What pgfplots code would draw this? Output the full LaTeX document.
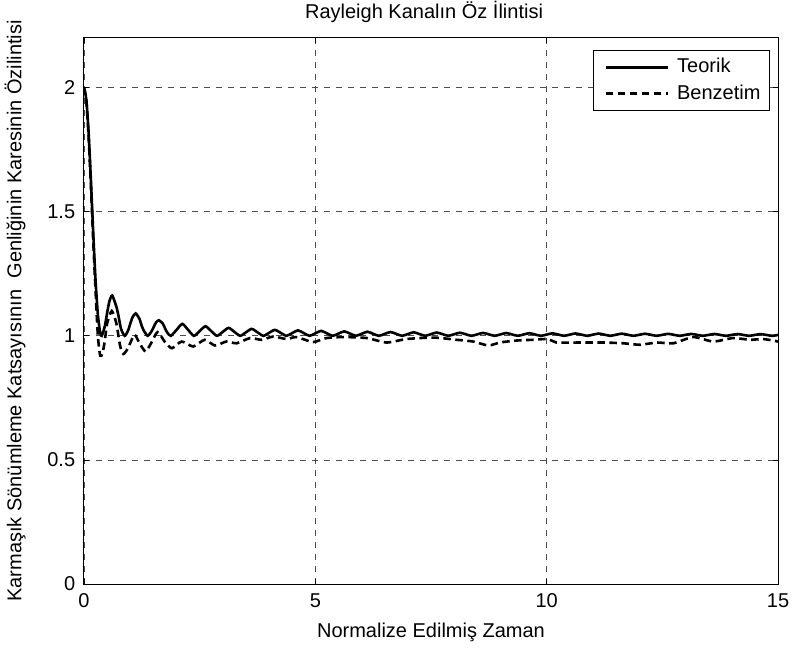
\documentclass[border=0pt]{standalone}
\usepackage{fontspec}
\setmainfont{Liberation Sans}
\usepackage{pgfplots}
\pgfplotsset{compat=1.18}
\begin{document}
\fontsize{20bp}{23bp}\selectfont
\begin{tikzpicture}
\useasboundingbox (-84bp,-65bp) rectangle (709bp,584bp);
\begin{axis}[
  at={(0,0)}, anchor=south west,
  width=694bp, height=546bp, scale only axis,
  xmin=0, xmax=15, ymin=0, ymax=2.2,
  xtick={0,5,10,15}, ytick={0,0.5,1,1.5,2},
  yticklabels={0,0.5,1,1.5,2},
  /pgf/number format/assume math mode=true,
  tick align=inside, major tick length=5bp,
  xtick pos=both, ytick pos=both,
  tick style={black, line width=0.8bp},
  axis line style={line width=1bp},
  grid=major,
  major grid style={black!70, line width=0.7bp, dash pattern=on 6bp off 6bp},
  xticklabel style={yshift=-3bp},
  yticklabel style={xshift=-2bp},
  title={Rayleigh Kanalın Öz İlintisi},
  title style={at={(axis description cs:0.49,1.036)}, anchor=center},
  xlabel={Normalize Edilmiş Zaman},
  xlabel style={at={(axis description cs:0.5,-0.0879)}, anchor=center},
  ylabel={Karmaşık Sönümleme Katsayısının\ \ Genliğinin Karesinin Özilintisi},
  ylabel style={at={(axis description cs:-0.0994,0.5)}, anchor=center},
  legend style={at={(rel axis cs:1,1)}, xshift=-8bp, yshift=-12bp, anchor=north east,
    draw=black, line width=1bp, inner xsep=7bp, inner ysep=6bp,
    row sep=5bp, cells={anchor=west}},
  legend image code/.code={\draw[#1, line width=2.6bp] (4bp,0bp) -- (66bp,0bp); \path (0bp,0bp) (72bp,0bp);},
]
\addplot[black, line width=2.6bp, smooth, tension=0.4] coordinates {
(0,2) (0.05,1.9516) (0.1,1.8167) (0.15,1.6240) (0.2,1.4126) (0.25,1.2228) (0.3,1.0845) (0.35,1.0123) (0.383,1.0)
(0.45,1.0383) (0.5,1.0925) (0.55,1.1397) (0.61,1.1622) (0.7,1.1172) (0.75,1.0760) (0.8,1.0284) (0.879,1.0)
(0.95,1.0199) (1.0,1.0485) (1.05,1.0751) (1.117,1.0901) (1.2,1.0676) (1.25,1.0388) (1.3,1.0182) (1.378,1.0)
(1.45,1.015) (1.5,1.033) (1.56,1.055) (1.619,1.0624) (1.7,1.050) (1.75,1.031) (1.8,1.013) (1.877,1.0)
(2.0,1.024) (2.125,1.048) (2.25,1.024) (2.375,1.0) (2.5,1.019) (2.625,1.0385) (2.75,1.019) (2.875,1)
(3.0,1.016) (3.125,1.032) (3.25,1.016) (3.375,1) (3.5,1.014) (3.625,1.028) (3.75,1.014) (3.875,1)
(4.0,1.012) (4.125,1.024) (4.25,1.012) (4.375,1) (4.5,1.011) (4.625,1.022) (4.75,1.011) (4.875,1)
(5.0,1.010) (5.125,1.020) (5.25,1.010) (5.375,1) (5.5,1.009) (5.625,1.018) (5.75,1.009) (5.875,1)
(6.0,1.008) (6.125,1.0165) (6.25,1.008) (6.375,1) (6.5,1.0077) (6.625,1.0153) (6.75,1.0077) (6.875,1)
(7.0,1.0071) (7.125,1.0142) (7.25,1.0071) (7.375,1) (7.5,1.0067) (7.625,1.0133) (7.75,1.0067) (7.875,1)
(8.0,1.0063) (8.125,1.0125) (8.25,1.0063) (8.375,1) (8.5,1.0059) (8.625,1.0117) (8.75,1.0059) (8.875,1)
(9.0,1.0056) (9.125,1.0111) (9.25,1.0056) (9.375,1) (9.5,1.0053) (9.625,1.0105) (9.75,1.0053) (9.875,1)
(10.0,1.005) (10.125,1.01) (10.25,1.005) (10.375,1) (10.5,1.0048) (10.625,1.0095) (10.75,1.0048) (10.875,1)
(11.0,1.0046) (11.125,1.0091) (11.25,1.0046) (11.375,1) (11.5,1.0044) (11.625,1.0087) (11.75,1.0044) (11.875,1)
(12.0,1.0042) (12.125,1.0084) (12.25,1.0042) (12.375,1) (12.5,1.004) (12.625,1.008) (12.75,1.004) (12.875,1)
(13.0,1.0039) (13.125,1.0077) (13.25,1.0039) (13.375,1) (13.5,1.0037) (13.625,1.0074) (13.75,1.0037) (13.875,1)
(14.0,1.0036) (14.125,1.0072) (14.25,1.0036) (14.375,1) (14.5,1.0035) (14.625,1.0069) (14.75,1.0035) (14.875,1)
(15,1.0034)
};
\addlegendentry{Teorik}
\addplot[black, line width=2.6bp, dash pattern=on 7.5bp off 4.5bp, smooth, tension=0.4] coordinates {
(0,2.0) (0.05,1.95) (0.1,1.8) (0.15,1.6) (0.2,1.38) (0.25,1.18) (0.3,1.0) (0.35,0.92) (0.4,0.93)
(0.45,0.98) (0.5,1.05) (0.6,1.10) (0.7,1.05) (0.78,0.96) (0.85,0.927) (0.95,0.95) (1.09,1.004)
(1.2,0.97) (1.33,0.937) (1.45,0.97) (1.59,1.015) (1.75,0.975) (1.90,0.950) (2.11,0.977) (2.36,0.957)
(2.61,0.984) (2.83,0.961) (3.08,0.977) (3.30,0.970) (3.59,0.991) (3.84,0.984) (4.09,0.997) (4.38,0.987)
(4.59,0.995) (4.95,0.975) (5.24,0.991) (5.60,0.995) (6.11,0.991) (6.54,0.973) (6.97,0.987) (7.55,0.993)
(8.05,0.984) (8.41,0.977) (8.74,0.961) (8.99,0.973) (9.35,0.981) (9.71,0.984) (10.03,0.987) (10.21,0.973)
(10.72,0.973) (11.22,0.973) (11.65,0.970) (12.02,0.964) (12.38,0.973) (12.74,0.970) (13.17,0.995)
(13.6,0.977) (14.03,0.991) (14.39,0.984) (14.68,0.987) (15,0.977)
};
\addlegendentry{Benzetim}
\end{axis}
\end{tikzpicture}
\end{document}
